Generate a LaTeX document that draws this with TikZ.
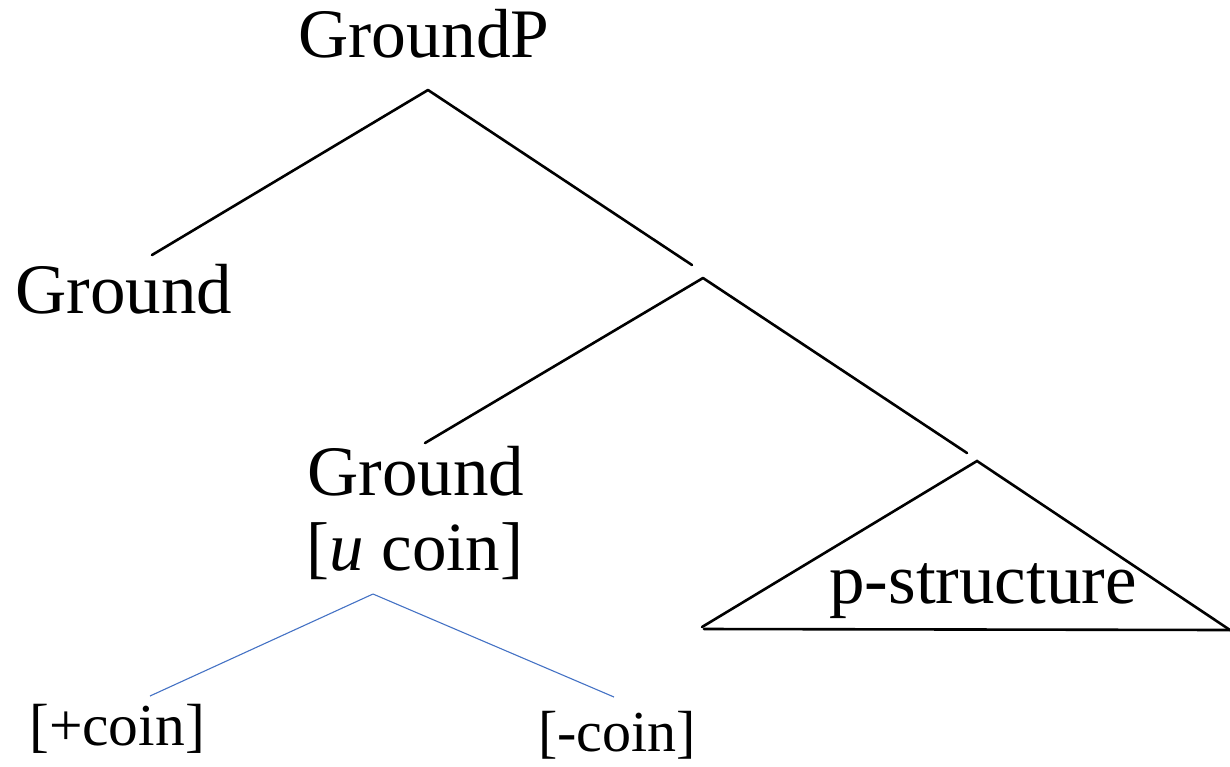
\documentclass[tikz,border=0pt]{standalone}
\usepackage{fontspec}
\setmainfont{Liberation Serif}
\begin{document}
\begin{tikzpicture}[x=1pt,y=-1pt,
  big/.style={anchor=base,inner sep=0pt,font=\fontsize{71}{74}\selectfont},
  small/.style={anchor=base,inner sep=0pt,font=\fontsize{59.5}{62}\selectfont},
  branch/.style={line width=2.6pt,line cap=round},
  fbranch/.style={line width=1.1pt,draw={rgb,255:red,68;green,114;blue,196}}]
\useasboundingbox (0,0) rectangle (1230,766);
\node[big,font=\fontsize{69.5}{72}\selectfont] (gp) at (424,57) {GroundP};
\node[big] (g1) at (124,313) {Ground};
\node[big] (g2) at (416,495) {Ground};
\node[big,font=\fontsize{69}{72}\selectfont] (g2f) at (415,570) {[\textit{u} coin]};
\node[big] (ps) at (983,603) {p-structure};
\node[small] (pc) at (117,745) {[+coin]};
\node[small,font=\fontsize{58}{60}\selectfont] (mc) at (617,751) {[-coin]};
\coordinate (a1) at (428,90);
\coordinate (l1) at (152,255);
\coordinate (r1) at (692,265);
\coordinate (a2) at (703,278);
\coordinate (l2) at (425,443);
\coordinate (r2) at (967,453);
\coordinate (a3) at (977,461);
\coordinate (l3) at (702,627);
\coordinate (r3) at (1230,630);
\coordinate (bl) at (704,629);
\coordinate (a4) at (373,594);
\coordinate (l4) at (150,696);
\coordinate (r4) at (614,697);
\draw[branch] (a1) -- (l1);
\draw[branch] (a1) -- (r1);
\draw[branch] (a2) -- (l2);
\draw[branch] (a2) -- (r2);
\draw[branch] (l3) -- (a3) -- (r3);
\draw[branch] (bl) -- (r3);
\draw[fbranch] (a4) -- (l4);
\draw[fbranch] (a4) -- (r4);
\end{tikzpicture}
\end{document}
